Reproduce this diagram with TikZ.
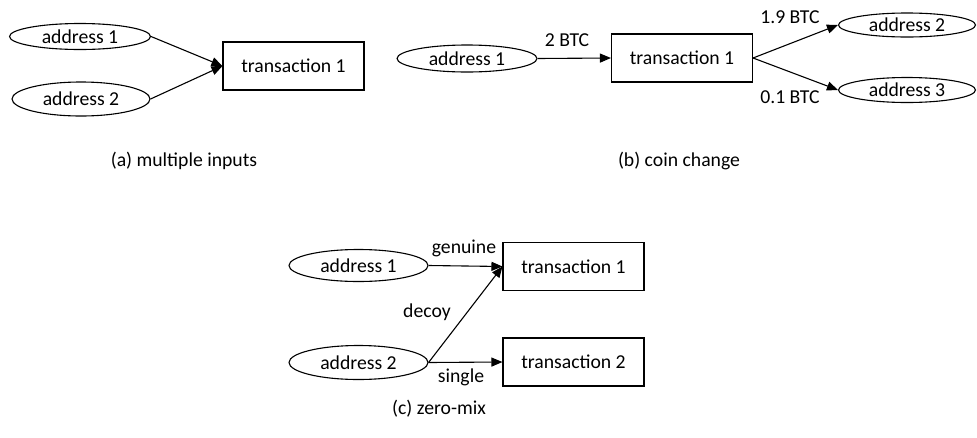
\documentclass[tikz,border=0pt]{standalone}
\usepackage{fontspec}
\setmainfont{Carlito}
\usetikzlibrary{shapes.geometric,arrows.meta}
\begin{document}
\begin{tikzpicture}[x=1pt,y=-1pt,
  font=\fontsize{19.7}{23}\selectfont,
  addr/.style={ellipse,draw,line width=1.1pt,inner sep=0pt,minimum width=140pt,minimum height=27pt},
  tx/.style={rectangle,draw,line width=1.1pt,inner sep=0pt,minimum width=141pt,minimum height=48pt},
  edge/.style={line width=1.1pt,-{Triangle[length=11pt,width=9pt]}},
  lbl/.style={inner sep=0pt}]
\useasboundingbox (0,0) rectangle (977,437);

% (a) multiple inputs
\node[addr,minimum width=141pt,minimum height=26pt] (a1) at (80,36.5) {address 1};
\node[addr,minimum width=138pt,minimum height=34pt] (a2) at (81,99) {address 2};
\node[tx] (at1) at (293.5,66) {transaction 1};
\draw[edge] (a1.east) -- (at1.west);
\draw[edge] (a2.east) -- (at1.west);
\node[lbl] (capa) at (184,161) {(a) multiple inputs};

% (b) coin change
\node[addr,minimum width=140pt,minimum height=27pt] (b1) at (467,58.5) {address 1};
\node[tx] (bt1) at (682,58) {transaction 1};
\node[addr,minimum width=137pt,minimum height=24pt] (b2) at (907,25) {address 2};
\node[addr,minimum width=137pt,minimum height=25pt] (b3) at (907,90) {address 3};
\draw[edge] (b1.east) -- (bt1.west);
\draw[edge] (bt1.east) -- (b2.west);
\draw[edge] (bt1.east) -- (b3.west);
\node[lbl] (l2btc) at (567,40) {2 BTC};
\node[lbl] (l19) at (790,17) {1.9 BTC};
\node[lbl] (l01) at (790,97) {0.1 BTC};
\node[lbl] (capb) at (679,161) {(b) coin change};

% (c) zero-mix
\node[addr,minimum width=139pt,minimum height=32pt] (c1) at (358.5,265.5) {address 1};
\node[addr,minimum width=139pt,minimum height=34pt] (c2) at (358.5,362.5) {address 2};
\node[tx] (ct1) at (573.5,266.5) {transaction 1};
\node[tx] (ct2) at (573.5,362) {transaction 2};
\draw[edge] (c1.east) -- (ct1.west);
\draw[edge] (c2.east) -- (ct1.west);
\draw[edge] (c2.east) -- (ct2.west);
\node[lbl] (lgen) at (464,248) {genuine};
\node[lbl] (ldec) at (427,312) {decoy};
\node[lbl] (lsin) at (461,377) {single};
\node[lbl] (capc) at (439,409) {(c) zero-mix};
\end{tikzpicture}
\end{document}
